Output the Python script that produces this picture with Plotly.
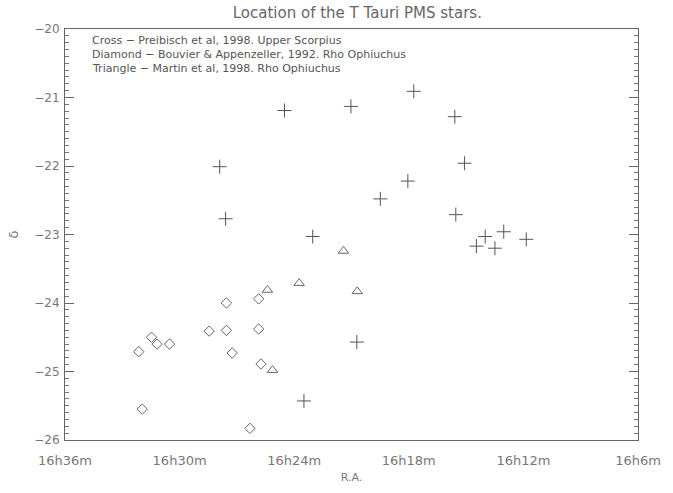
import plotly.graph_objects as go

# R.A. in minutes after 16h, declination in degrees
cross_ra = [24.51, 21.03, 17.74, 15.59, 15.08, 27.90, 18.05, 19.49, 27.59, 15.54,
            23.03, 14.00, 13.03, 14.46, 13.49, 11.85, 20.72, 23.49]
cross_dec = [-21.19, -21.13, -20.91, -21.28, -21.96, -22.01, -22.22, -22.48, -22.77, -22.71,
             -23.03, -23.03, -22.96, -23.17, -23.20, -23.07, -24.57, -25.43]

diamond_ra = [27.55, 25.86, 28.45, 27.55, 25.86, 31.47, 31.18, 30.53, 32.14, 27.25,
              25.74, 31.96, 26.32]
diamond_dec = [-24.00, -23.94, -24.41, -24.40, -24.38, -24.50, -24.60, -24.60, -24.71, -24.73,
               -24.89, -25.55, -25.83]

triangle_ra = [25.40, 23.74, 25.14, 21.42, 20.70]
triangle_dec = [-23.81, -23.71, -24.98, -23.24, -23.83]

x_tick_vals = [36, 30, 24, 18, 12, 6]
x_tick_text = ["16h36m", "16h30m", "16h24m", "16h18m", "16h12m", "16h6m"]
y_tick_vals = [-20, -21, -22, -23, -24, -25, -26]
y_tick_text = ["\u221220", "\u221221", "\u221222", "\u221223", "\u221224", "\u221225", "\u221226"]

legend_lines = [
    "Cross \u2212 Preibisch et al, 1998. Upper Scorpius",
    "Diamond \u2212 Bouvier & Appenzeller, 1992. Rho Ophiuchus",
    "Triangle \u2212 Martin et al, 1998. Rho Ophiuchus",
]

ink = "#555555"
font = "DejaVu Sans"

fig = go.Figure()
fig.add_trace(go.Scatter(x=cross_ra, y=cross_dec, mode="markers",
                         marker=dict(symbol="cross-thin", size=10,
                                     line=dict(color="#555555", width=1)),
                         showlegend=False))
fig.add_trace(go.Scatter(x=diamond_ra, y=diamond_dec, mode="markers",
                         marker=dict(symbol="diamond-open", size=8, color="#666666",
                                     line=dict(width=1)),
                         showlegend=False))
fig.add_trace(go.Scatter(x=triangle_ra, y=triangle_dec, mode="markers",
                         marker=dict(symbol="triangle-up-open", size=9, color="#666666",
                                     line=dict(width=1)),
                         showlegend=False))

for i, t in enumerate(legend_lines):
    fig.add_annotation(x=0.043, xref="paper", y=-20.17 - 0.2 * i, yref="y",
                       text=t, showarrow=False, xanchor="left", yanchor="middle",
                       font=dict(family=font, size=11, color=ink))

fig.update_layout(
    width=673, height=493,
    margin=dict(l=65, r=23, t=29, b=50),
    paper_bgcolor="white", plot_bgcolor="white",
    title=dict(text="Location of the T Tauri PMS stars.", x=0.531, xanchor="center",
               y=0.975, yanchor="middle",
               font=dict(family=font, size=15, color="#666666")),
    font=dict(family=font, color=ink),
    xaxis=dict(range=[36, 6], tickvals=x_tick_vals, ticktext=x_tick_text,
               showgrid=False, zeroline=False, showline=True, linecolor="#666666",
               linewidth=1, mirror=True, ticks="", ticklabelstandoff=8,
               tickfont=dict(family=font, size=13, color="#777777"),
               title=dict(text="R.A.", font=dict(family=font, size=11, color="#777777"),
                          standoff=6)),
    yaxis=dict(range=[-26, -20], tickvals=y_tick_vals, ticktext=y_tick_text,
               showgrid=False, zeroline=False, showline=True, linecolor="#666666",
               linewidth=1, mirror="allticks", ticks="inside", ticklen=9,
               tickcolor="#666666", ticklabelstandoff=2,
               minor=dict(dtick=0.1, ticks="inside", ticklen=4, tickcolor="#777777"),
               tickfont=dict(family=font, size=12, color="#777777"),
               title=dict(text="\u03b4", font=dict(family=font, size=13, color="#777777"),
                          standoff=12)),
)

fig.write_html("out.html")
